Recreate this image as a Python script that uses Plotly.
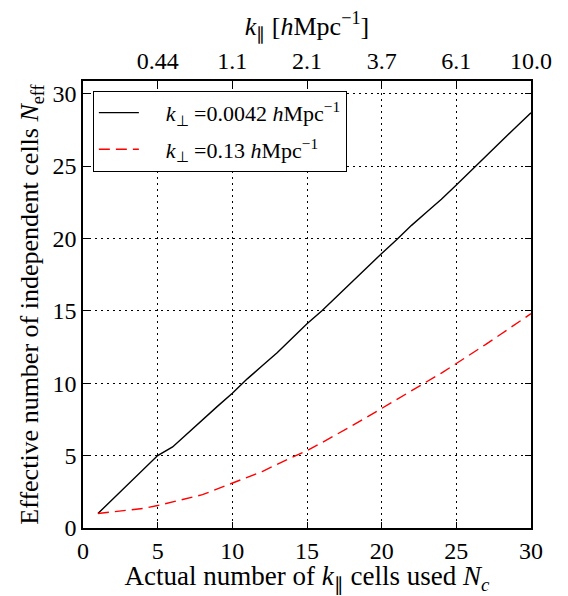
import plotly.graph_objects as go

# Actual number of k_par cells used
n_cells = list(range(1, 31))

# Effective number of independent cells, k_perp = 0.0042 h/Mpc
n_eff_low = [1.0, 2.0, 3.0, 4.0, 5.0, 5.6, 6.55, 7.45, 8.4, 9.3,
             10.3, 11.2, 12.1, 13.1, 14.1, 15.0, 16.0, 17.0, 18.0, 18.96,
             19.9, 20.9, 21.8, 22.7, 23.68, 24.7, 25.7, 26.7, 27.7, 28.68]

# Effective number of independent cells, k_perp = 0.13 h/Mpc
n_eff_high = [1.0, 1.1, 1.2, 1.35, 1.55, 1.8, 2.0, 2.3, 2.7, 3.1,
              3.5, 3.9, 4.4, 4.85, 5.35, 5.9, 6.45, 7.05, 7.65, 8.25,
              8.85, 9.45, 10.1, 10.7, 11.36, 12.0, 12.7, 13.4, 14.1, 14.8]

# top axis: k_par values at N_c = 5, 10, ... 30
top_tickvals = [5, 10, 15, 20, 25, 30]
top_ticktext = ["0.44", "1.1", "2.1", "3.7", "6.1", "10.0"]

SERIF = "Liberation Serif, Times New Roman, serif"

fig = go.Figure()

fig.add_trace(go.Scatter(
    x=n_cells, y=n_eff_low, mode="lines",
    line=dict(color="black", width=1.4),
    legendgroup="low",
    name="    <i>k</i><sub>⊥</sub> =0.0042 <i>h</i>Mpc<sup>−1</sup>",
))
fig.add_trace(go.Scatter(
    x=n_cells, y=n_eff_high, mode="lines",
    line=dict(color="#ff0000", width=1.4, dash="11px,6px"),
    legendgroup="high",
    name="    <i>k</i><sub>⊥</sub> =0.13 <i>h</i>Mpc<sup>−1</sup>",
))
# invisible trace to carry the top axis
fig.add_trace(go.Scatter(
    x=[n_cells[0], n_cells[-1]], y=[n_eff_low[0], n_eff_low[-1]],
    xaxis="x2", mode="lines", line=dict(width=0),
    hoverinfo="skip", showlegend=False,
))

axis_common = dict(
    showline=True, linecolor="black", linewidth=1.5,
    ticks="inside", ticklen=6, tickwidth=1, tickcolor="black",
    showgrid=True, gridcolor="black", gridwidth=1, griddash="2px,4px",
    zeroline=False, automargin=False,
    tickfont=dict(family=SERIF, size=24, color="black"),
)

# the page body adds an 8px offset, so the figure is 8px smaller
fig.update_layout(
    width=560, height=588,
    paper_bgcolor="white", plot_bgcolor="white",
    margin=dict(l=75, r=37, t=73, b=68),
    font=dict(family=SERIF, color="black"),
    showlegend=True,
    legend=dict(
        x=0.022, y=0.978, xanchor="left", yanchor="top",
        bgcolor="white", bordercolor="black", borderwidth=1,
        font=dict(family=SERIF, size=22, color="black"),
        tracegroupgap=5, itemwidth=40,
    ),
    xaxis=dict(
        axis_common, range=[0, 30], tickvals=[0, 5, 10, 15, 20, 25, 30],
        mirror="ticks",
        title=dict(text="Actual number of <i>k</i><sub>∥</sub> cells used <i>N<sub>c</sub></i>",
                   font=dict(family=SERIF, size=27), standoff=6),
    ),
    xaxis2=dict(
        overlaying="x", side="top", anchor="y", range=[0, 30],
        tickvals=top_tickvals, ticktext=top_ticktext, automargin=False,
        ticks="", showgrid=False, showline=False, zeroline=False,
        ticklabelstandoff=6,
        tickfont=dict(family=SERIF, size=24, color="black"),
        title=dict(text="<i>k</i><sub>∥</sub> [<i>h</i>Mpc<sup>−1</sup>]",
                   font=dict(family=SERIF, size=26), standoff=12),
    ),
    yaxis=dict(
        axis_common, range=[0, 30.87], tickvals=[0, 5, 10, 15, 20, 25, 30],
        mirror="ticks",
        title=dict(text="Effective number of independent cells <i>N</i><sub>eff</sub>",
                   font=dict(family=SERIF, size=26), standoff=6),
    ),
)

fig.write_html("out.html")
